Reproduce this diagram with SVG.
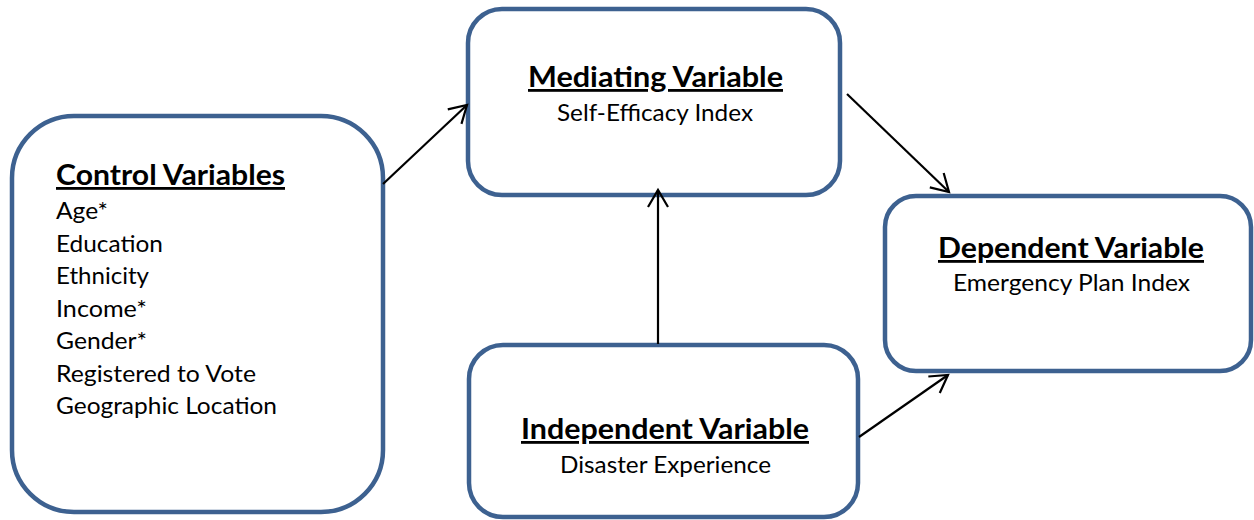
<svg xmlns="http://www.w3.org/2000/svg" width="1254" height="520" viewBox="0 0 1254 520">
  <style>
    .box { fill: #ffffff; stroke: #3D6190; stroke-width: 4.5; }
    .head { font-family: Lato, "Open Sans", "Liberation Sans", sans-serif; font-weight: bold; font-size: 28px; fill: #000; text-decoration: underline; }
    .body { font-family: Lato, "Open Sans", "Liberation Sans", sans-serif; font-size: 24px; fill: #000; }
    .conn { stroke: #000; stroke-width: 2.2; fill: none; marker-end: url(#arrow); }
  </style>
  <defs>
    <marker id="arrow" markerUnits="userSpaceOnUse" markerWidth="40" markerHeight="40" refX="0" refY="0" viewBox="-20 -20 40 40" orient="auto" overflow="visible">
      <path d="M-17,-10 L0,0 L-17,10" fill="none" stroke="#000" stroke-width="2.2" stroke-linejoin="miter"/>
    </marker>
  </defs>
  <rect width="1254" height="520" fill="#ffffff"/>

  <g id="control">
    <rect class="box" x="12" y="116" width="371" height="396" rx="62" ry="62"/>
    <text class="head" x="56" y="185" textLength="229" lengthAdjust="spacingAndGlyphs">Control Variables</text>
    <text class="body" x="56" y="219" textLength="52" lengthAdjust="spacingAndGlyphs">Age*</text>
    <text class="body" x="56" y="252" textLength="107" lengthAdjust="spacingAndGlyphs">Education</text>
    <text class="body" x="56" y="284" textLength="93" lengthAdjust="spacingAndGlyphs">Ethnicity</text>
    <text class="body" x="56" y="317" textLength="91" lengthAdjust="spacingAndGlyphs">Income*</text>
    <text class="body" x="56" y="349" textLength="91" lengthAdjust="spacingAndGlyphs">Gender*</text>
    <text class="body" x="56" y="382" textLength="200" lengthAdjust="spacingAndGlyphs">Registered to Vote</text>
    <text class="body" x="56" y="414" textLength="221" lengthAdjust="spacingAndGlyphs">Geographic Location</text>
  </g>

  <g id="mediating">
    <rect class="box" x="468" y="9" width="372" height="186" rx="34" ry="34"/>
    <text class="head" x="528" y="87" textLength="255" lengthAdjust="spacingAndGlyphs">Mediating Variable</text>
    <text class="body" x="557" y="121" textLength="196" lengthAdjust="spacingAndGlyphs">Self-Efficacy Index</text>
  </g>

  <g id="dependent">
    <rect class="box" x="885" y="196" width="366" height="175" rx="31" ry="31"/>
    <text class="head" x="938" y="258" textLength="266" lengthAdjust="spacingAndGlyphs">Dependent Variable</text>
    <text class="body" x="953" y="291" textLength="237" lengthAdjust="spacingAndGlyphs">Emergency Plan Index</text>
  </g>

  <g id="independent">
    <rect class="box" x="469" y="345" width="389" height="172" rx="34" ry="34"/>
    <text class="head" x="521" y="439" textLength="288" lengthAdjust="spacingAndGlyphs">Independent Variable</text>
    <text class="body" x="560" y="473" textLength="211" lengthAdjust="spacingAndGlyphs">Disaster Experience</text>
  </g>

  <g id="connectors">
    <line class="conn" x1="383" y1="184" x2="467" y2="105"/>
    <line class="conn" x1="847" y1="94" x2="949" y2="192"/>
    <line class="conn" x1="658" y1="344" x2="658" y2="190"/>
    <line class="conn" x1="859" y1="437" x2="948" y2="375"/>
  </g>
</svg>
